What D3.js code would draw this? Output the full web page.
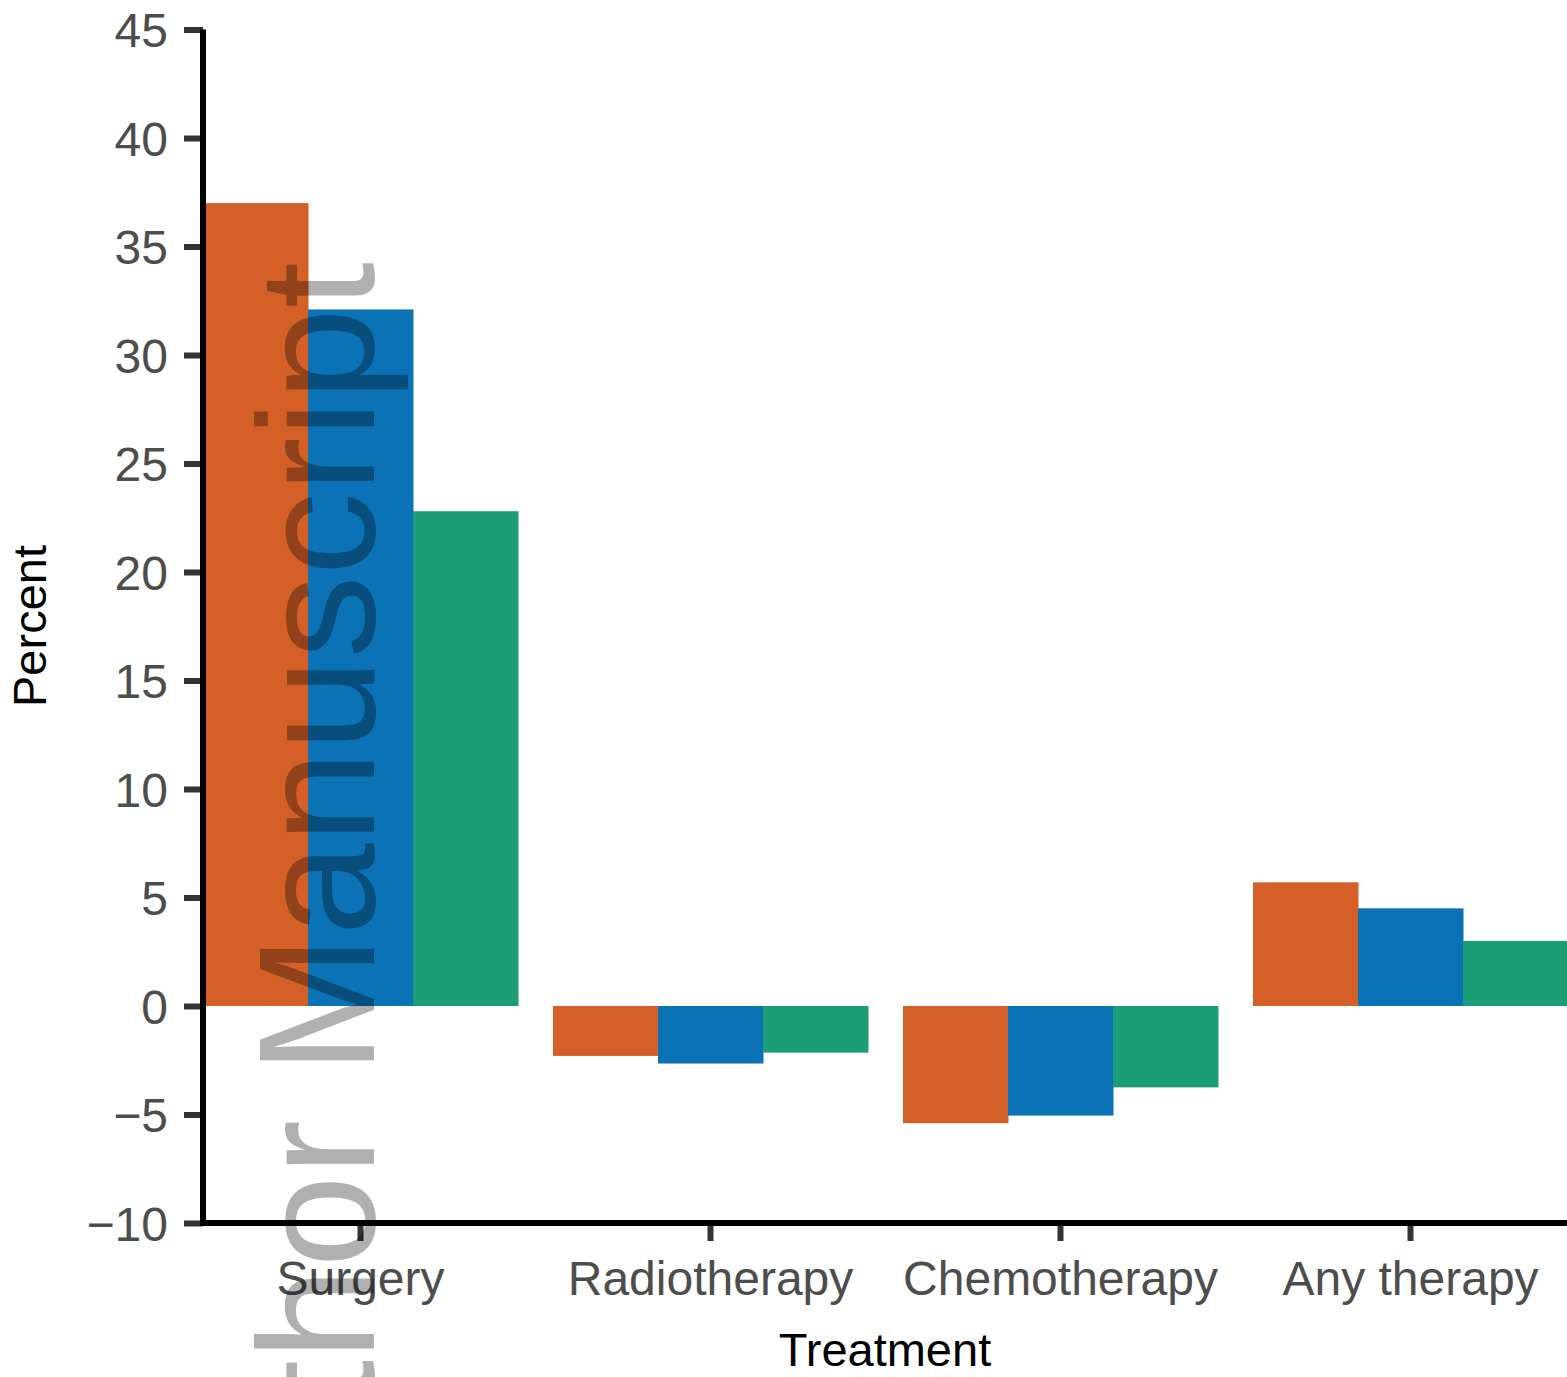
<!DOCTYPE html>
<html>
<head>
<meta charset="utf-8">
<script src="https://cdn.jsdelivr.net/npm/d3@7"></script>
<style>
	html, body { margin: 0; padding: 0; background: #fff; }
	svg { display: block; font-family: "Liberation Sans", Arial, Helvetica, sans-serif; }
</style>
</head>
<body>
<svg id="chart" width="1567" height="1377"></svg>
<script>
const categories = ["Surgery", "Radiotherapy", "Chemotherapy", "Any therapy"];
const seriesNames = ["A", "B", "C"];
const seriesA = [37.0, -2.3, -5.4, 5.7];
const seriesB = [32.1, -2.65, -5.05, 4.5];
const seriesC = [22.8, -2.15, -3.75, 3.0];
const yTicks = [-10, -5, 0, 5, 10, 15, 20, 25, 30, 35, 40, 45];

const colors = ["#d46027", "#0b72b5", "#1b9e75"];

const svg = d3.select("#chart");
const width = 1567;

const x = d3.scaleBand()
	.domain(categories)
	.range([203, 1568])
	.paddingInner(0.1)
	.paddingOuter(0);

const x1 = d3.scaleBand()
	.domain(seriesNames)
	.range([0, x.bandwidth()]);

const y = d3.scaleLinear()
	.domain([-10, 45])
	.range([1223, 29.5]);

const values = [seriesA, seriesB, seriesC];
const data = [];
categories.forEach((c, i) => {
	seriesNames.forEach((s, j) => {
		data.push({ label: c, series: s, index: j, value: values[j][i] });
	});
});

// Bars
svg.append("g")
	.classed("bars", true)
	.selectAll("rect.bar")
	.data(data)
	.enter()
	.append("rect")
	.classed("bar", true)
	.attr("x", d => x(d.label) + x1(d.series))
	.attr("y", d => y(Math.max(0, d.value)))
	.attr("width", x1.bandwidth() + 0.5)
	.attr("height", d => Math.abs(y(d.value) - y(0)))
	.attr("fill", d => colors[d.index]);

// Y axis
const yAxis = d3.axisLeft(y)
	.tickValues(yTicks)
	.tickSize(19)
	.tickPadding(16)
	.tickFormat(d => d < 0 ? "\u2212" + Math.abs(d) : d);

const gy = svg.append("g")
	.attr("class", "y axis")
	.attr("transform", "translate(203,0)")
	.call(yAxis);

gy.select(".domain").remove();
gy.selectAll(".tick line")
	.attr("stroke", "#333")
	.attr("stroke-width", 6);
gy.selectAll(".tick text")
	.attr("fill", "#4d4d4d")
	.attr("font-size", 48)
	.attr("dy", "0.36em");

// X axis
const xAxis = d3.axisBottom(x)
	.tickSize(18)
	.tickPadding(20);

const gx = svg.append("g")
	.attr("class", "x axis")
	.attr("transform", "translate(0,1223)")
	.call(xAxis);

gx.select(".domain").remove();
gx.selectAll(".tick line")
	.attr("stroke", "#333")
	.attr("stroke-width", 6);
gx.selectAll(".tick text")
	.attr("fill", "#4d4d4d")
	.attr("font-size", 48)
	.attr("dy", "0.71em");

// Axis lines
svg.append("line")
	.attr("x1", 203).attr("x2", 203)
	.attr("y1", y(45)).attr("y2", y(-10) + 3)
	.attr("stroke", "#000")
	.attr("stroke-width", 6);

svg.append("line")
	.attr("x1", 200).attr("x2", width)
	.attr("y1", y(-10)).attr("y2", y(-10))
	.attr("stroke", "#000")
	.attr("stroke-width", 6);

// Axis titles
svg.append("text")
	.attr("class", "y axis-label")
	.attr("text-anchor", "middle")
	.attr("transform", "translate(46,626) rotate(-90)")
	.attr("font-size", 47)
	.attr("fill", "#000")
	.text("Percent");

svg.append("text")
	.attr("class", "x axis-label")
	.attr("text-anchor", "middle")
	.attr("x", (203 + width) / 2)
	.attr("y", 1366)
	.attr("font-size", 47)
	.attr("fill", "#000")
	.text("Treatment");

// Watermark (runs off the bottom edge, as in the original)
svg.append("text")
	.attr("class", "watermark")
	.attr("text-anchor", "end")
	.attr("transform", "translate(374,262) rotate(-90)")
	.attr("font-size", 166)
	.attr("fill", "#000")
	.attr("fill-opacity", 0.31)
	.text("Author Manuscript");
</script>
</body>
</html>
